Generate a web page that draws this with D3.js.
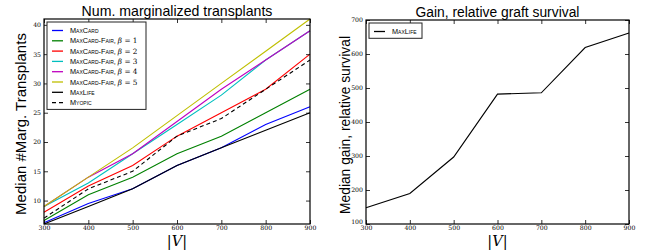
<!DOCTYPE html>
<html>
<head>
<meta charset="utf-8">
<script src="https://cdn.jsdelivr.net/npm/d3@7"></script>
<style>
body{margin:0;background:#fff}
text{fill:#000}
</style>
</head>
<body>
<svg width="649" height="251"></svg>
<script>
// |V| sizes on the x axis
var sizes=[300,400,500,600,700,800,900];

// left panel: median number of marginalized transplants
var maxCard=[6.2,9.5,12,16,19,23,26];
var fair1=[6.6,11,14,18,21,25,29];
var fair2=[8,12.5,16,21,25,29,35];
var fair3=[9,13,18,23,28,34,39];
var fair4=[9,14,18,23.5,29,34,39];
var fair5=[9,14,19,24.5,30,35.5,41];
var maxLife=[6,9,12,16,19,22,25];
var myopic=[7,12,15,21,24,29,34];

// right panel: median gain, relative graft survival
var gainMaxLife=[148,190,297,482,486,619,662];

var leftTicksY=[10,15,20,25,30,35,40];
var rightTicksY=[100,200,300,400,500,600,700];
var ticksX=[300,400,500,600,700,800,900];

var leftSeries=[
  {name:"MaxCard",beta:null,vals:maxCard,color:"#0000ff",dash:null},
  {name:"MaxCard-Fair",beta:1,vals:fair1,color:"#008000",dash:null},
  {name:"MaxCard-Fair",beta:2,vals:fair2,color:"#ff0000",dash:null},
  {name:"MaxCard-Fair",beta:3,vals:fair3,color:"#00bfbf",dash:null},
  {name:"MaxCard-Fair",beta:4,vals:fair4,color:"#bf00bf",dash:null},
  {name:"MaxCard-Fair",beta:5,vals:fair5,color:"#bfbf00",dash:null},
  {name:"MaxLife",beta:null,vals:maxLife,color:"#000",dash:null},
  {name:"Myopic",beta:null,vals:myopic,color:"#000",dash:"4,3"}
];
var rightSeries=[
  {name:"MaxLife",beta:null,vals:gainMaxLife,color:"#000",dash:null}
];

var svg=d3.select("svg");

// shrink or grow a text so it spans the given width
function fit(sel,w){
  var n=sel.node(),len=n.getComputedTextLength();
  var fs=parseFloat(sel.style("font-size"));
  if(len>0) sel.style("font-size",(fs*w/len)+"px");
}

function panel(o){
  var x=d3.scaleLinear().domain([300,900]).range([o.left,o.right]);
  var y=d3.scaleLinear().domain(o.ydom).range([o.bottom,o.top]);
  var g=svg.append("g");

  // title
  var ti=g.append("text")
    .attr("x",(o.left+o.right)/2).attr("y",o.top-3)
    .attr("text-anchor","middle")
    .style("font-family","Liberation Sans, Arial, sans-serif")
    .style("font-size","13px")
    .text(o.title);
  fit(ti,o.titleW);

  // y label
  var yl=g.append("text")
    .attr("transform","translate("+o.ylabX+","+o.ylabY+") rotate(-90)")
    .attr("text-anchor","middle")
    .style("font-family","Liberation Sans, Arial, sans-serif")
    .style("font-size","14px")
    .text(o.ylabel);
  fit(yl,o.ylabW);

  // x label |V|
  var xl=g.append("text")
    .attr("x",(o.left+o.right)/2).attr("y",245.5)
    .attr("text-anchor","middle")
    .style("font-family","DejaVu Serif, serif")
    .style("font-size","14.5px");
  xl.append("tspan").text("|");
  xl.append("tspan").style("font-style","italic").text("V");
  xl.append("tspan").text("|");

  // lines
  var line=d3.line().x(function(d,i){return x(sizes[i]);}).y(function(d){return y(d);});
  o.series.forEach(function(s){
    g.append("path")
      .attr("d",line(s.vals))
      .attr("fill","none")
      .attr("stroke",s.color)
      .attr("stroke-width",1.1)
      .attr("stroke-dasharray",s.dash);
  });

  // axes, ticks pointing inward on all four sides
  g.append("g").attr("transform","translate(0,"+o.bottom+")")
    .call(d3.axisBottom(x).tickValues(ticksX).tickSize(-4).tickPadding(1.5));
  var ay=g.append("g").attr("transform","translate("+o.left+",0)")
    .call(d3.axisLeft(y).tickValues(o.yticks).tickSize(-4).tickPadding(3));
  g.append("g").attr("transform","translate(0,"+o.top+")")
    .call(d3.axisTop(x).tickValues(ticksX).tickSize(-4).tickFormat(""));
  g.append("g").attr("transform","translate("+o.right+",0)")
    .call(d3.axisRight(y).tickValues(o.yticks).tickSize(-4).tickFormat(""));
  g.selectAll(".domain").remove();
  g.selectAll(".tick line").attr("stroke","#000").attr("stroke-width",0.8);
  g.selectAll(".tick text")
    .style("font-family","DejaVu Serif, serif")
    .style("font-size","6.2px")
    .attr("fill","#444");
  // lowest y label sits just above the corner x label
  ay.selectAll(".tick text").filter(function(d){return d===o.ydom[0];}).attr("dy","-0.1em");

  g.append("rect")
    .attr("x",o.left).attr("y",o.top)
    .attr("width",o.right-o.left).attr("height",o.bottom-o.top)
    .attr("fill","none").attr("stroke","#000").attr("stroke-width",1.2);

  // legend
  var lg=g.append("g");
  lg.append("rect")
    .attr("x",o.left+3).attr("y",o.top+3)
    .attr("width",o.legW).attr("height",o.series.length*10.3+5)
    .attr("fill","#fff").attr("stroke","#222").attr("stroke-width",1);
  o.series.forEach(function(s,i){
    var yy=o.top+3+8.5+i*10.3;
    lg.append("line")
      .attr("x1",o.left+8).attr("x2",o.left+19)
      .attr("y1",yy).attr("y2",yy)
      .attr("stroke",s.color).attr("stroke-width",1.3)
      .attr("stroke-dasharray",s.dash);
    var t=lg.append("text")
      .attr("x",o.left+26).attr("y",yy+2.6)
      .style("font-family","Liberation Sans, Arial, sans-serif")
      .style("font-size","7.3px")
      .attr("fill","#333");
    t.append("tspan").style("font-variant","small-caps").text(s.name);
    if(s.beta!==null){
      t.append("tspan").text(", ");
      t.append("tspan").style("font-family","DejaVu Serif, serif").style("font-style","italic").text("\u03b2");
      t.append("tspan").style("font-family","DejaVu Serif, serif").text(" = "+s.beta);
    }
  });
}

panel({left:44,right:310,top:19,bottom:224,ydom:[6,41],yticks:leftTicksY,
  title:"Num. marginalized transplants",titleW:191,
  ylabel:"Median #Marg. Transplants",ylabX:26,ylabY:124,ylabW:182,
  series:leftSeries,legW:99});
panel({left:366,right:629,top:20,bottom:224,ydom:[100,700],yticks:rightTicksY,
  title:"Gain, relative graft survival",titleW:164,
  ylabel:"Median gain, relative survival",ylabX:350,ylabY:125,ylabW:178,
  series:rightSeries,legW:53});
</script>
</body>
</html>
